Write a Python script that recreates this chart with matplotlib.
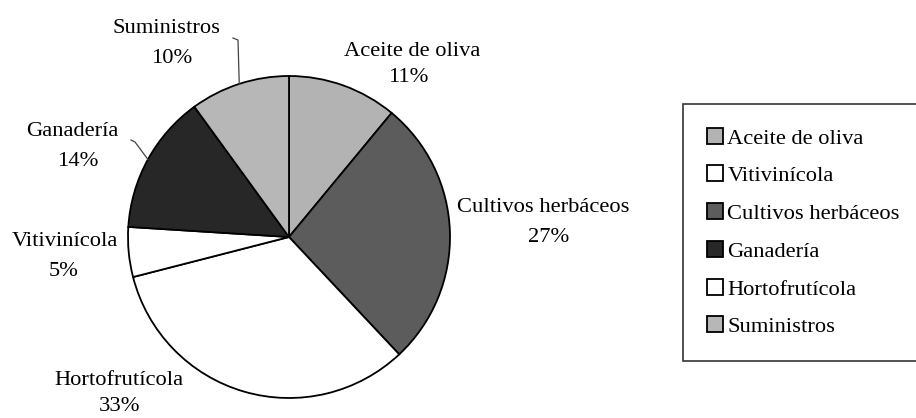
import numpy as np
import matplotlib
matplotlib.use("Agg")
import matplotlib.pyplot as plt
from matplotlib.patches import Patch

plt.rcParams['font.family'] = ['Liberation Serif', 'DejaVu Serif']

# slices, clockwise from 12 o'clock
sectores = ["Aceite de oliva", "Cultivos herbáceos", "Hortofrutícola",
            "Vitivinícola", "Ganadería", "Suministros"]
porcentajes = [11, 27, 33, 5, 14, 10]
colores = ["#b3b3b3", "#5c5c5c", "#ffffff", "#ffffff", "#272727", "#b7b7b7"]

# legend order as in the original
orden_leyenda = ["Aceite de oliva", "Vitivinícola", "Cultivos herbáceos",
                 "Ganadería", "Hortofrutícola", "Suministros"]

W, H = 916, 418
fig = plt.figure(figsize=(W / 100, H / 100), dpi=100)
ax = fig.add_axes([0, 0, 1, 1])

cx, cy, R = 289, H - 237, 161
wedges, _ = ax.pie(porcentajes, colors=colores, startangle=90, counterclock=False,
                   center=(cx, cy), radius=R, frame=True,
                   wedgeprops=dict(edgecolor="black", linewidth=1.3))
ax.set_xlim(0, W)
ax.set_ylim(0, H)
ax.axis('off')

# label layout (pixels from top-left): name x, name baseline, pct x, pct baseline
pos_etiq = {
    "Aceite de oliva": (412, 56, 408, 82),
    "Cultivos herbáceos": (543, 212, 549, 242),
    "Hortofrutícola": (119, 385, 120, 411),
    "Vitivinícola": (65, 246, 64, 276),
    "Ganadería": (72, 136, 78, 166),
    "Suministros": (167, 33, 172, 63),
}
for nombre, p in zip(sectores, porcentajes):
    xn, yn, xp, yp = pos_etiq[nombre]
    ax.text(xn, H - yn, nombre, ha="center", va="baseline", fontsize=16.2)
    ax.text(xp, H - yp, "%d%%" % p, ha="center", va="baseline", fontsize=16.2)

# small leader lines for the two labels away from their slices
guias = {"Suministros": [(233, 38), (238, 40)], "Ganadería": [(131, 140), (135, 142)]}
for w, nombre in zip(wedges, sectores):
    if nombre not in guias:
        continue
    th = np.deg2rad((w.theta1 + w.theta2) / 2)
    x0 = cx + R * np.cos(th)
    y0 = cy + R * np.sin(th)
    pts = guias[nombre]
    xs = [pts[0][0], pts[1][0], x0]
    ys = [H - pts[0][1], H - pts[1][1], y0]
    ax.plot(xs, ys, color="#444444", linewidth=0.9)

col = dict(zip(sectores, colores))
handles = [Patch(facecolor=col[n], edgecolor="black", linewidth=1.3) for n in orden_leyenda]
leg = fig.legend(handles, orden_leyenda, loc="upper left",
                 bbox_to_anchor=(683 / W, (H - 104) / H), borderaxespad=0,
                 fontsize=16.2, handlelength=0.72, handleheight=0.72,
                 handletextpad=0.2, labelspacing=0.75, borderpad=1.05,
                 frameon=True, fancybox=False)
leg.get_frame().set_edgecolor("black")
leg.get_frame().set_linewidth(1.2)

fig.savefig("out.png", dpi=100)
